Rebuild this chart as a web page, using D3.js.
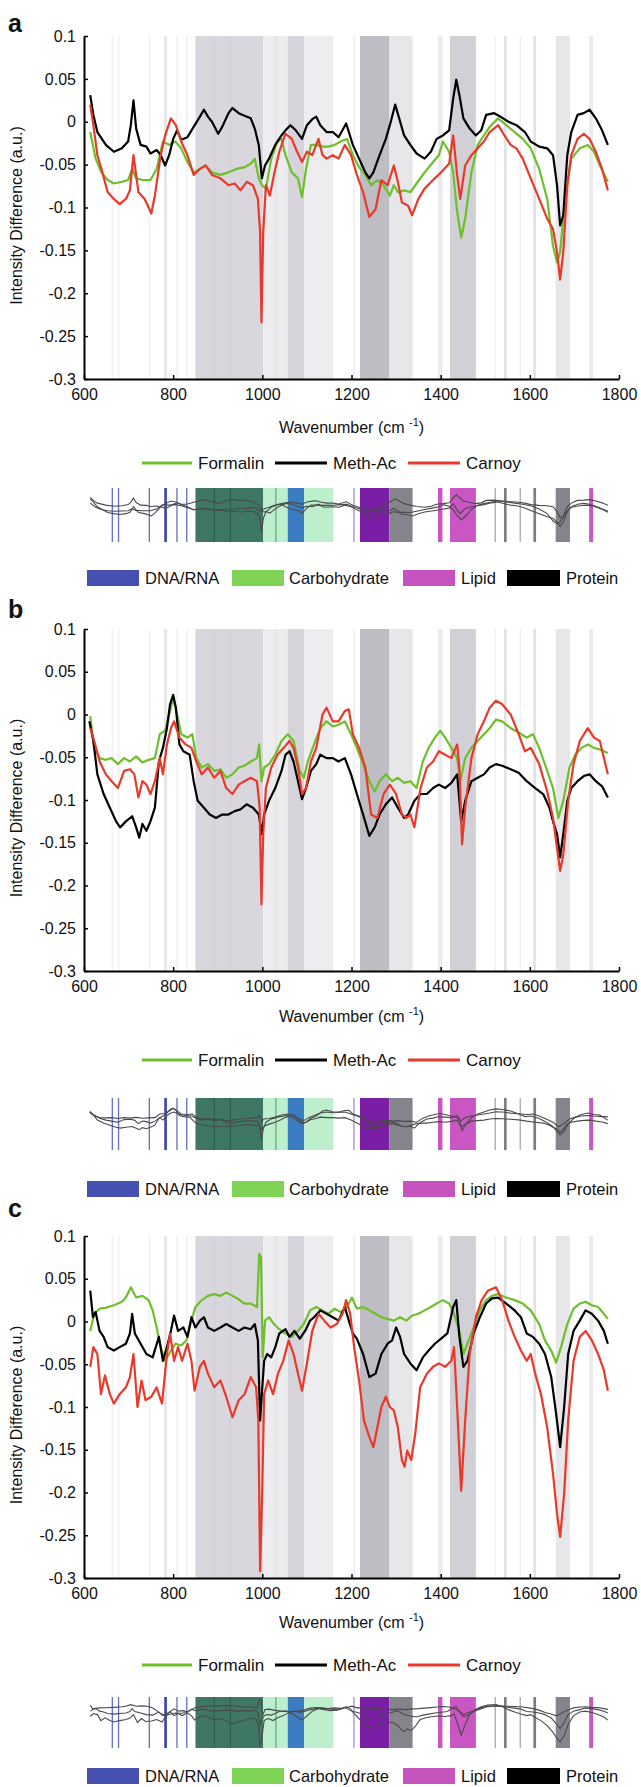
<!DOCTYPE html>
<html>
<head>
<meta charset="utf-8">
<script src="https://cdn.jsdelivr.net/npm/d3@7"></script>
<style>
body { margin: 0; background: #fff; }
svg text { font-family: "Liberation Sans", Arial, sans-serif; fill: #111; }
</style>
</head>
<body>
<div id="chart"></div>
<script>
// ---- data: [wavenumber, intensity difference] ----
const aFormalin = [[614,-0.012],[626,-0.043],[639,-0.059],[653,-0.068],[667,-0.072],[685,-0.070],[699,-0.068],[708,-0.055],[717,-0.066],[731,-0.068],[749,-0.068],[763,-0.055],[777,-0.023],[791,-0.027],[805,-0.023],[818,-0.031],[832,-0.047],[846,-0.059],[860,-0.055],[873,-0.051],[887,-0.059],[906,-0.062],[924,-0.059],[942,-0.055],[960,-0.053],[974,-0.049],[983,-0.043],[992,-0.066],[999,-0.074],[1008,-0.078],[1020,-0.043],[1034,-0.023],[1043,-0.020],[1052,-0.039],[1066,-0.059],[1080,-0.066],[1089,-0.088],[1098,-0.055],[1109,-0.027],[1121,-0.027],[1135,-0.029],[1148,-0.029],[1162,-0.027],[1176,-0.023],[1190,-0.020],[1203,-0.039],[1217,-0.053],[1231,-0.062],[1244,-0.074],[1258,-0.068],[1272,-0.074],[1286,-0.086],[1295,-0.074],[1304,-0.082],[1318,-0.080],[1332,-0.082],[1346,-0.072],[1364,-0.059],[1383,-0.047],[1396,-0.039],[1405,-0.023],[1419,-0.035],[1428,-0.059],[1437,-0.105],[1446,-0.135],[1455,-0.113],[1469,-0.059],[1483,-0.027],[1497,-0.016],[1510,-0.006],[1529,0.004],[1547,-0.004],[1566,-0.012],[1584,-0.020],[1602,-0.031],[1621,-0.055],[1639,-0.090],[1652,-0.145],[1661,-0.164],[1668,-0.152],[1679,-0.090],[1693,-0.043],[1712,-0.031],[1730,-0.027],[1744,-0.035],[1757,-0.051],[1775,-0.070]];
const aMethAc = [[614,0.031],[621,0.008],[630,-0.012],[649,-0.027],[667,-0.035],[685,-0.031],[699,-0.023],[705,-0.004],[711,0.025],[717,-0.008],[727,-0.027],[740,-0.029],[749,-0.037],[763,-0.033],[772,-0.039],[782,-0.051],[791,-0.039],[800,-0.020],[809,-0.010],[818,-0.021],[832,-0.018],[846,-0.006],[860,0.006],[869,0.014],[878,0.006],[887,0],[901,-0.014],[910,-0.006],[924,0.010],[933,0.016],[947,0.010],[960,0.007],[974,0.004],[983,-0.008],[992,-0.027],[999,-0.066],[1006,-0.051],[1015,-0.043],[1029,-0.027],[1043,-0.016],[1052,-0.010],[1063,-0.004],[1075,-0.010],[1089,-0.020],[1100,-0.004],[1112,0.003],[1121,0.006],[1130,-0.004],[1144,-0.012],[1158,-0.012],[1171,-0.018],[1188,-0.002],[1194,-0.012],[1203,-0.027],[1217,-0.043],[1231,-0.059],[1240,-0.066],[1249,-0.059],[1263,-0.039],[1277,-0.020],[1286,-0.004],[1298,0.020],[1307,0.004],[1318,-0.016],[1332,-0.027],[1346,-0.037],[1364,-0.043],[1378,-0.035],[1391,-0.020],[1405,-0.016],[1419,-0.010],[1428,0.027],[1435,0.049],[1442,0.031],[1451,0.004],[1465,-0.008],[1479,-0.016],[1491,-0.010],[1502,0.008],[1520,0.010],[1534,0.006],[1552,0],[1570,-0.004],[1589,-0.012],[1602,-0.023],[1621,-0.029],[1639,-0.031],[1652,-0.039],[1661,-0.074],[1668,-0.121],[1675,-0.109],[1684,-0.039],[1693,-0.012],[1707,0.008],[1721,0.010],[1734,0.014],[1748,0.004],[1762,-0.010],[1775,-0.027]];
const aCarnoy = [[614,0.020],[621,-0.004],[630,-0.039],[639,-0.055],[653,-0.082],[667,-0.090],[680,-0.096],[694,-0.090],[703,-0.080],[711,-0.039],[722,-0.082],[736,-0.090],[745,-0.100],[751,-0.107],[759,-0.086],[772,-0.039],[782,-0.016],[795,0.004],[806,-0.004],[818,-0.023],[832,-0.039],[846,-0.062],[860,-0.055],[873,-0.051],[887,-0.062],[906,-0.066],[924,-0.074],[938,-0.072],[951,-0.080],[965,-0.070],[979,-0.074],[990,-0.090],[995,-0.129],[998,-0.234],[1002,-0.129],[1008,-0.074],[1017,-0.086],[1026,-0.062],[1038,-0.035],[1052,-0.014],[1066,-0.020],[1078,-0.035],[1089,-0.047],[1100,-0.035],[1112,-0.039],[1126,-0.020],[1135,-0.039],[1144,-0.043],[1158,-0.039],[1171,-0.043],[1185,-0.027],[1199,-0.039],[1212,-0.062],[1226,-0.082],[1240,-0.111],[1254,-0.102],[1267,-0.068],[1281,-0.074],[1295,-0.051],[1304,-0.070],[1313,-0.094],[1327,-0.098],[1336,-0.109],[1350,-0.090],[1364,-0.078],[1383,-0.068],[1401,-0.059],[1419,-0.049],[1428,-0.016],[1437,-0.062],[1444,-0.090],[1455,-0.051],[1469,-0.039],[1483,-0.031],[1497,-0.023],[1510,-0.012],[1529,-0.004],[1543,-0.016],[1557,-0.027],[1570,-0.031],[1584,-0.043],[1602,-0.066],[1621,-0.090],[1639,-0.113],[1652,-0.125],[1661,-0.152],[1668,-0.184],[1675,-0.152],[1684,-0.074],[1693,-0.039],[1707,-0.020],[1721,-0.014],[1734,-0.020],[1748,-0.035],[1762,-0.055],[1775,-0.080]];

const bFormalin = [[614,-0.002],[623,-0.039],[635,-0.051],[649,-0.053],[662,-0.051],[676,-0.058],[690,-0.051],[703,-0.055],[717,-0.049],[731,-0.056],[745,-0.053],[759,-0.051],[770,-0.023],[782,-0.019],[793,0.004],[800,0.019],[809,0],[818,-0.023],[832,-0.027],[843,-0.023],[852,-0.051],[864,-0.062],[878,-0.058],[892,-0.066],[906,-0.064],[919,-0.074],[933,-0.070],[947,-0.062],[960,-0.060],[974,-0.055],[988,-0.051],[993,-0.035],[998,-0.078],[1004,-0.062],[1015,-0.058],[1029,-0.047],[1043,-0.031],[1057,-0.023],[1070,-0.031],[1084,-0.066],[1093,-0.074],[1102,-0.055],[1116,-0.035],[1130,-0.016],[1144,-0.008],[1158,-0.014],[1171,-0.012],[1185,-0.008],[1199,-0.023],[1212,-0.039],[1226,-0.058],[1240,-0.078],[1252,-0.090],[1263,-0.078],[1277,-0.070],[1291,-0.078],[1304,-0.074],[1318,-0.080],[1332,-0.078],[1346,-0.086],[1360,-0.055],[1373,-0.039],[1387,-0.027],[1399,-0.019],[1410,-0.027],[1424,-0.039],[1437,-0.051],[1444,-0.078],[1455,-0.051],[1469,-0.039],[1483,-0.031],[1497,-0.023],[1510,-0.016],[1524,-0.006],[1538,-0.008],[1557,-0.016],[1575,-0.021],[1593,-0.027],[1607,-0.023],[1621,-0.039],[1639,-0.066],[1652,-0.086],[1664,-0.121],[1675,-0.101],[1689,-0.062],[1702,-0.047],[1716,-0.039],[1730,-0.035],[1744,-0.039],[1757,-0.041],[1775,-0.045]];
const bMethAc = [[612,-0.008],[621,-0.031],[630,-0.070],[644,-0.093],[658,-0.109],[672,-0.125],[681,-0.132],[694,-0.125],[708,-0.119],[717,-0.132],[724,-0.144],[731,-0.128],[740,-0.136],[749,-0.125],[759,-0.109],[768,-0.055],[777,-0.039],[786,-0.016],[793,0.012],[800,0.023],[806,0.008],[814,-0.035],[823,-0.043],[837,-0.047],[846,-0.078],[855,-0.101],[869,-0.109],[882,-0.117],[896,-0.121],[910,-0.117],[924,-0.117],[938,-0.113],[951,-0.111],[965,-0.105],[979,-0.109],[992,-0.117],[999,-0.140],[1004,-0.117],[1015,-0.101],[1029,-0.086],[1043,-0.066],[1052,-0.047],[1061,-0.043],[1070,-0.055],[1080,-0.078],[1089,-0.099],[1098,-0.086],[1109,-0.066],[1121,-0.058],[1130,-0.047],[1144,-0.051],[1158,-0.051],[1171,-0.055],[1185,-0.051],[1199,-0.070],[1212,-0.093],[1226,-0.117],[1240,-0.142],[1252,-0.132],[1263,-0.117],[1277,-0.105],[1291,-0.097],[1304,-0.109],[1318,-0.121],[1327,-0.117],[1341,-0.101],[1355,-0.093],[1369,-0.093],[1383,-0.086],[1396,-0.082],[1410,-0.086],[1424,-0.080],[1437,-0.070],[1446,-0.125],[1455,-0.101],[1469,-0.078],[1483,-0.074],[1497,-0.070],[1510,-0.062],[1524,-0.058],[1538,-0.060],[1557,-0.064],[1575,-0.068],[1593,-0.078],[1612,-0.086],[1630,-0.093],[1644,-0.109],[1652,-0.125],[1661,-0.140],[1668,-0.167],[1675,-0.140],[1684,-0.101],[1693,-0.086],[1707,-0.078],[1721,-0.072],[1734,-0.070],[1748,-0.078],[1762,-0.084],[1775,-0.097]];
const bCarnoy = [[614,-0.016],[623,-0.031],[635,-0.055],[649,-0.070],[662,-0.078],[676,-0.086],[690,-0.066],[703,-0.064],[713,-0.070],[722,-0.097],[731,-0.078],[740,-0.082],[749,-0.093],[759,-0.078],[770,-0.051],[777,-0.070],[786,-0.035],[795,-0.016],[802,-0.008],[814,-0.027],[828,-0.035],[841,-0.039],[852,-0.055],[864,-0.070],[878,-0.062],[892,-0.074],[906,-0.066],[919,-0.086],[933,-0.093],[947,-0.082],[960,-0.078],[974,-0.074],[988,-0.078],[994,-0.109],[998,-0.222],[1002,-0.140],[1008,-0.086],[1020,-0.062],[1034,-0.047],[1048,-0.039],[1061,-0.031],[1070,-0.039],[1080,-0.062],[1089,-0.093],[1098,-0.086],[1109,-0.055],[1121,-0.039],[1135,0],[1144,0.008],[1158,-0.008],[1171,-0.008],[1185,0.004],[1194,0.006],[1203,-0.023],[1217,-0.039],[1231,-0.062],[1244,-0.117],[1258,-0.121],[1272,-0.093],[1286,-0.082],[1300,-0.093],[1313,-0.117],[1323,-0.121],[1332,-0.117],[1341,-0.132],[1355,-0.086],[1369,-0.062],[1383,-0.055],[1396,-0.043],[1410,-0.047],[1424,-0.051],[1437,-0.035],[1442,-0.062],[1448,-0.152],[1455,-0.109],[1469,-0.051],[1483,-0.023],[1497,-0.008],[1510,0.008],[1524,0.016],[1538,0.012],[1557,0],[1575,-0.023],[1589,-0.043],[1602,-0.039],[1621,-0.058],[1639,-0.090],[1652,-0.121],[1661,-0.156],[1668,-0.183],[1675,-0.164],[1686,-0.101],[1698,-0.058],[1712,-0.031],[1730,-0.016],[1744,-0.027],[1757,-0.031],[1775,-0.070]];

const cFormalin = [[614,-0.011],[623,0.009],[635,0.015],[649,0.016],[667,0.019],[685,0.023],[694,0.028],[705,0.040],[717,0.028],[731,0.030],[745,0.025],[754,0.013],[763,-0.007],[772,-0.030],[782,-0.046],[793,-0.036],[805,-0.026],[818,-0.028],[830,-0.022],[841,0.001],[850,0.017],[864,0.025],[878,0.030],[892,0.032],[906,0.030],[919,0.034],[933,0.030],[947,0.026],[960,0.021],[974,0.021],[988,0.017],[993,0.079],[997,0.075],[1001,-0.042],[1006,0.001],[1015,0.005],[1026,-0.003],[1038,-0.009],[1052,-0.014],[1066,-0.018],[1080,-0.011],[1093,-0.003],[1107,0.013],[1121,0.017],[1135,0.013],[1148,0.009],[1162,0.015],[1176,0.011],[1190,0.017],[1201,0.028],[1212,0.015],[1226,0.017],[1240,0.013],[1254,0.009],[1267,0.005],[1281,0.003],[1295,0.001],[1309,0.005],[1323,0.001],[1336,0.007],[1350,0.009],[1364,0.013],[1378,0.017],[1391,0.021],[1405,0.025],[1419,0.021],[1430,0.009],[1442,-0.011],[1451,-0.038],[1460,-0.026],[1474,-0.007],[1488,0.013],[1502,0.025],[1515,0.030],[1529,0.032],[1547,0.028],[1566,0.025],[1584,0.021],[1602,0.013],[1621,-0.003],[1634,-0.022],[1648,-0.034],[1659,-0.048],[1670,-0.030],[1684,-0.003],[1698,0.015],[1712,0.021],[1725,0.023],[1739,0.019],[1753,0.017],[1766,0.009],[1775,0.003]];
const cMethAc = [[614,0.036],[620,0.005],[626,0.011],[635,-0.011],[644,-0.018],[653,-0.030],[667,-0.034],[680,-0.030],[694,-0.026],[703,-0.014],[708,0.009],[714,-0.014],[727,-0.026],[740,-0.038],[754,-0.042],[768,-0.018],[777,-0.046],[786,-0.030],[795,-0.011],[802,0.007],[811,-0.011],[823,-0.007],[832,-0.018],[841,0.005],[850,-0.007],[860,0.001],[869,0.005],[878,-0.007],[892,-0.011],[906,-0.007],[919,-0.003],[933,-0.007],[947,-0.011],[960,-0.007],[974,-0.009],[983,-0.003],[990,-0.022],[995,-0.116],[999,-0.084],[1004,-0.046],[1011,-0.038],[1020,-0.042],[1029,-0.030],[1038,-0.014],[1052,-0.009],[1061,-0.018],[1072,-0.011],[1084,-0.020],[1096,-0.011],[1107,0.001],[1116,0.005],[1130,0.013],[1144,0.009],[1158,0.005],[1171,0.001],[1185,0.017],[1194,0.001],[1203,-0.014],[1212,-0.020],[1226,-0.038],[1240,-0.065],[1254,-0.061],[1267,-0.038],[1281,-0.026],[1291,-0.022],[1300,-0.007],[1309,-0.018],[1318,-0.038],[1332,-0.049],[1346,-0.057],[1360,-0.042],[1373,-0.034],[1387,-0.026],[1401,-0.020],[1415,-0.014],[1428,0.017],[1435,0.025],[1442,-0.018],[1451,-0.053],[1460,-0.046],[1474,-0.014],[1488,0.005],[1502,0.021],[1515,0.027],[1529,0.028],[1547,0.021],[1566,0.013],[1580,0.005],[1593,-0.014],[1607,-0.018],[1621,-0.026],[1634,-0.038],[1648,-0.065],[1659,-0.108],[1668,-0.147],[1677,-0.100],[1686,-0.038],[1698,-0.011],[1712,0.001],[1725,0.013],[1739,0.009],[1753,0.001],[1766,-0.011],[1775,-0.026]];
const cCarnoy = [[614,-0.053],[621,-0.030],[630,-0.038],[638,-0.085],[647,-0.063],[658,-0.085],[667,-0.096],[680,-0.085],[694,-0.077],[703,-0.065],[711,-0.038],[720,-0.100],[729,-0.069],[738,-0.092],[751,-0.088],[763,-0.077],[775,-0.096],[786,-0.038],[793,-0.014],[802,-0.046],[811,-0.030],[820,-0.046],[832,-0.026],[841,-0.046],[848,-0.081],[860,-0.053],[869,-0.046],[878,-0.061],[892,-0.077],[906,-0.069],[919,-0.088],[933,-0.112],[947,-0.092],[960,-0.085],[974,-0.065],[986,-0.077],[991,-0.116],[995,-0.292],[1000,-0.193],[1004,-0.085],[1013,-0.069],[1024,-0.085],[1035,-0.061],[1047,-0.046],[1059,-0.022],[1070,-0.038],[1080,-0.061],[1089,-0.081],[1100,-0.049],[1112,-0.011],[1126,0.009],[1139,0.001],[1153,-0.007],[1167,-0.003],[1180,0.009],[1188,0.025],[1197,0.009],[1206,-0.030],[1217,-0.069],[1228,-0.116],[1240,-0.135],[1249,-0.147],[1258,-0.124],[1267,-0.100],[1277,-0.088],[1286,-0.100],[1295,-0.104],[1304,-0.124],[1313,-0.162],[1319,-0.170],[1325,-0.151],[1334,-0.162],[1343,-0.131],[1354,-0.077],[1369,-0.061],[1383,-0.053],[1396,-0.049],[1410,-0.053],[1424,-0.046],[1430,-0.030],[1437,-0.100],[1446,-0.198],[1455,-0.116],[1465,-0.038],[1479,0.005],[1492,0.025],[1506,0.036],[1524,0.040],[1538,0.025],[1552,0.001],[1566,-0.018],[1580,-0.034],[1593,-0.046],[1602,-0.038],[1612,-0.061],[1625,-0.085],[1639,-0.124],[1652,-0.178],[1661,-0.225],[1668,-0.252],[1677,-0.201],[1686,-0.116],[1698,-0.046],[1712,-0.018],[1725,-0.011],[1739,-0.022],[1753,-0.038],[1766,-0.057],[1775,-0.081]];

// band assignments (wavenumber ranges) shown as shading
const bandLo =   [662, 676, 745, 780, 807, 829, 850, 891, 927, 1002, 1029, 1057, 1094, 1204, 1219, 1285, 1394, 1421, 1521, 1542, 1577, 1608, 1658, 1733];
const bandHi =   [665, 679, 748, 786, 810, 832, 1002, 893, 929, 1057, 1031, 1094, 1159, 1207, 1285, 1337, 1404, 1479, 1524, 1548, 1580, 1614, 1690, 1742];
const bandKind = ["dna","dna","dna","dnaStrong","dna","dna","mixed","mixedLine","mixedLine","carb","carbLine","dnaCarb","carb","thinPurple","dnaLipid","protein","lipid","lipidBand","proteinFaint","proteinLine","proteinFaint","proteinLine","protein","lipid"];

const seriesNames = ["Formalin", "Meth-Ac", "Carnoy"];
const categoryNames = ["DNA/RNA", "Carbohydrate", "Lipid", "Protein"];
const yTicks = [0.1, 0.05, 0, -0.05, -0.1, -0.15, -0.2, -0.25, -0.3];
const xTicks = [600, 800, 1000, 1200, 1400, 1600, 1800];

// ---- styles ----
const seriesColors = ["#6dbf2b", "#000000", "#e8392a"];
const categoryColors = ["#4550b0", "#7fd455", "#c754be", "#000000"];
const mainShade = {dna:"#f0f0f2", dnaStrong:"#e5e5e9", mixed:"#d9d7dd", mixedLine:"#d3d1d8", carb:"#ededf0", carbLine:"#e2e2e6",
  dnaCarb:"#d6d4da", thinPurple:"#ededf0", dnaLipid:"#bfbdc4", protein:"#e7e7ea", lipid:"#ebebee", lipidBand:"#d2d0d7",
  proteinFaint:"#f0f0f2", proteinLine:"#e2e2e5"};
const stripShade = {dna:"#6b72c4", dnaStrong:"#3c46aa", mixed:"#3e7764", mixedLine:"#2e5e4f", carb:"#bdefcc", carbLine:"#62a582",
  dnaCarb:"#3b7cc2", thinPurple:"#a092d8", dnaLipid:"#7a1ea6", protein:"#85848c", lipid:"#c956c3", lipidBand:"#c956c3",
  proteinFaint:"#aeadb6", proteinLine:"#7e7d86"};

const width = 641, height = 1787;
const svg = d3.select("#chart").append("svg")
    .attr("width", width)
    .attr("height", height);

const x = d3.scaleLinear().domain([600, 1800]).range([84, 619]);

const panels = [
  {label: "a", labelY: 32, top: 36, bottom: 379, xlabY: 433, legY: 463, stripTop: 488, stripBottom: 542, catY: 578,
   data: [aFormalin, aMethAc, aCarnoy]},
  {label: "b", labelY: 618, top: 629, bottom: 971, xlabY: 1022, legY: 1060, stripTop: 1098, stripBottom: 1150, catY: 1189,
   data: [bFormalin, bMethAc, bCarnoy]},
  {label: "c", labelY: 1217, top: 1236, bottom: 1578, xlabY: 1628, legY: 1665, stripTop: 1697, stripBottom: 1748, catY: 1776,
   data: [cFormalin, cMethAc, cCarnoy]}
];

const bands = bandLo.map((lo, i) => ({lo: lo, hi: bandHi[i], kind: bandKind[i]}));
const fmt = d => d === 0 ? "0" : String(+d.toFixed(2));

panels.forEach(function(p) {
  const g = svg.append("g");
  const y = d3.scaleLinear().domain([-0.3, 0.1]).range([p.bottom, p.top]);

  // panel letter
  g.append("text")
    .attr("x", 8).attr("y", p.labelY)
    .attr("font-size", 25).attr("font-weight", "bold")
    .text(p.label);

  // shaded bands
  g.append("g").selectAll("rect")
    .data(bands)
    .join("rect")
    .attr("x", d => x(d.lo))
    .attr("y", p.top)
    .attr("width", d => Math.max(1.5, x(d.hi) - x(d.lo)))
    .attr("height", p.bottom - p.top)
    .attr("fill", d => mainShade[d.kind]);

  // spectra
  const line = d3.line().x(d => x(d[0])).y(d => y(d[1]));
  p.data.forEach(function(s, i) {
    g.append("path")
      .datum(s)
      .attr("fill", "none")
      .attr("stroke", seriesColors[i])
      .attr("stroke-width", 2.2)
      .attr("stroke-linejoin", "round")
      .attr("d", line);
  });

  // axes
  const yAxis = g.append("g")
    .attr("transform", `translate(${x(600)},0)`)
    .call(d3.axisLeft(y).tickValues(yTicks).tickFormat(fmt).tickSize(-4).tickSizeOuter(0).tickPadding(8));
  const xAxis = g.append("g")
    .attr("transform", `translate(0,${p.bottom})`)
    .call(d3.axisBottom(x).tickValues(xTicks).tickFormat(d3.format("d")).tickSize(-4).tickSizeOuter(0).tickPadding(10));
  [yAxis, xAxis].forEach(function(a) {
    a.attr("font-family", null).attr("font-size", null);
    a.select(".domain").attr("stroke", "#000").attr("stroke-width", 2);
    a.selectAll(".tick line").attr("stroke", "#000").attr("stroke-width", 1.5);
    a.selectAll(".tick text").attr("font-size", 16).attr("fill", "#111");
  });

  // axis titles
  g.append("text")
    .attr("transform", `translate(22,${(p.top + p.bottom) / 2 + 8}) rotate(-90)`)
    .attr("text-anchor", "middle")
    .attr("font-size", 16)
    .text("Intensity Difference (a.u.)");
  const xl = g.append("text")
    .attr("x", (x(600) + x(1800)) / 2)
    .attr("y", p.xlabY)
    .attr("text-anchor", "middle")
    .attr("font-size", 16);
  xl.append("tspan").text("Wavenumber (cm ");
  xl.append("tspan").attr("font-size", 11).attr("dy", -7).text("-1");
  xl.append("tspan").attr("dy", 7).text(")");

  // series legend
  const legX = [[142, 192, 198], [275, 327, 333], [408, 460, 466]];
  seriesNames.forEach(function(n, i) {
    g.append("line")
      .attr("x1", legX[i][0]).attr("x2", legX[i][1])
      .attr("y1", p.legY).attr("y2", p.legY)
      .attr("stroke", seriesColors[i]).attr("stroke-width", 3);
    g.append("text")
      .attr("x", legX[i][2]).attr("y", p.legY)
      .attr("dy", "0.36em")
      .attr("font-size", 17)
      .text(n);
  });

  // mini strip with band colours
  const ys = d3.scaleLinear().domain([-0.3, 0.1]).range([p.stripBottom, p.stripTop]);
  g.append("g").selectAll("rect")
    .data(bands)
    .join("rect")
    .attr("x", d => x(d.lo))
    .attr("y", p.stripTop)
    .attr("width", d => Math.max(1.2, x(d.hi) - x(d.lo)))
    .attr("height", p.stripBottom - p.stripTop)
    .attr("fill", d => stripShade[d.kind]);
  const sline = d3.line().x(d => x(d[0])).y(d => ys(d[1]));
  p.data.forEach(function(s) {
    g.append("path")
      .datum(s)
      .attr("fill", "none")
      .attr("stroke", "#4a4a4a")
      .attr("stroke-width", 1.1)
      .attr("d", sline);
  });

  // category legend
  const catX = [[87, 139, 145], [232, 284, 289], [403, 455, 461], [507, 560, 566]];
  categoryNames.forEach(function(n, i) {
    g.append("rect")
      .attr("x", catX[i][0]).attr("y", p.catY - 8)
      .attr("width", catX[i][1] - catX[i][0]).attr("height", 16)
      .attr("fill", categoryColors[i]);
    g.append("text")
      .attr("x", catX[i][2]).attr("y", p.catY)
      .attr("dy", "0.35em")
      .attr("font-size", 16.5)
      .text(n);
  });
});
</script>
</body>
</html>
